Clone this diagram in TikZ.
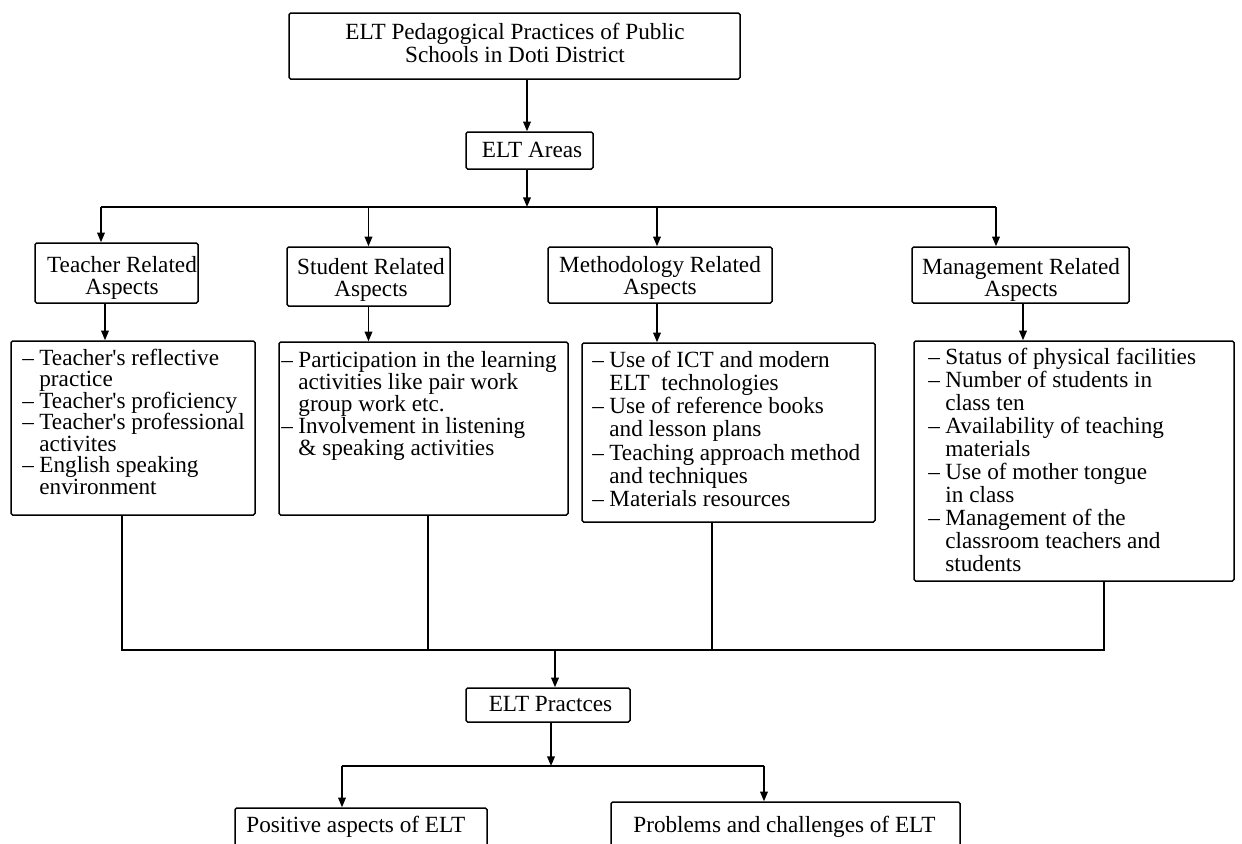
\documentclass[tikz,border=0pt]{standalone}
\usepackage{fontspec}
\setmainfont{Liberation Serif}
\usetikzlibrary{arrows.meta,calc}
\newcommand\itm{\par\hangindent=8.5pt\hangafter=1\noindent\makebox[8.5pt][l]{–}}
\newcommand\apos{\textquotesingle}
\begin{document}
\begin{tikzpicture}[x=0.5pt,y=-0.5pt,
  box/.style={draw, line width=0.75pt, rounded corners=0.8pt, inner sep=0pt},
  ln/.style={line width=0.75pt},
  arr/.style={line width=0.75pt, -{Triangle[length=4.8pt,width=3.8pt]}},
  ttx/.style={inner sep=0pt, anchor=base, font=\fontsize{11.6}{11}\selectfont},
  ltx/.style={inner sep=0pt, anchor=base west, font=\fontsize{11.6}{11.5}\selectfont},
]
\fill[white] (0,0) rectangle (1242,843);
\useasboundingbox (0,0) rectangle (1242,843);
\clip (0,0) rectangle (1242,843);

% ---- boxes ----
\node[box, minimum width=225.5pt, minimum height=33pt] (top) at (514.5,46) {};
\node[box, minimum width=63.5pt, minimum height=18.5pt] (areas) at (529.5,150.5) {};
\node[box, minimum width=81.5pt, minimum height=30pt] (ttl) at (116.5,273) {};
\node[box, minimum width=81.5pt, minimum height=29.5pt] (stl) at (368.5,276.5) {};
\node[box, minimum width=112pt, minimum height=28pt] (mtl) at (660,275) {};
\node[box, minimum width=108.5pt, minimum height=28pt] (gtl) at (1020.5,275) {};
\node[box, minimum width=122pt, minimum height=87pt] (tlist) at (133,428) {};
\node[box, minimum width=144.5pt, minimum height=86.5pt] (slist) at (423.5,428.5) {};
\node[box, minimum width=146.5pt, minimum height=89.5pt] (mlist) at (728.5,432.5) {};
\node[box, minimum width=160pt, minimum height=120pt] (glist) at (1074,461) {};
\node[box, minimum width=82pt, minimum height=17pt] (prac) at (548,705) {};
\node[box, minimum width=126pt, minimum height=31pt] (pos) at (361,839) {};
\node[box, minimum width=174.5pt, minimum height=34pt] (prob) at (785.5,836) {};

% ---- texts ----
\node[ttx, font=\fontsize{11.6}{11.6}\selectfont] (toptx) at (515,39.5)
  {\begin{tabular}[t]{@{}c@{}}ELT Pedagogical Practices of Public\\Schools in Doti District\end{tabular}};
\node[ttx] (areastx) at (532,157) {ELT Areas};
\node[ttx] (ttltx) at (122,272)
  {\begin{tabular}[t]{@{}c@{}}Teacher Related\\Aspects\end{tabular}};
\node[ttx] (stltx) at (371,274)
  {\begin{tabular}[t]{@{}c@{}}Student Related\\Aspects\end{tabular}};
\node[ttx] (mtltx) at (660,272)
  {\begin{tabular}[t]{@{}c@{}}Methodology Related\\Aspects\end{tabular}};
\node[ttx] (gtltx) at (1021,274)
  {\begin{tabular}[t]{@{}c@{}}Management Related\\Aspects\end{tabular}};
\node[ttx] (practx) at (550.5,711) {ELT Practces};
\node[ltx] (postx) at (246,832) {Positive aspects of ELT};
\node[ltx] (probtx) at (633,832) {Problems and challenges of ELT};

\node[ltx] (tlisttx) at (22,365) {\begin{minipage}[t]{240pt}\fontsize{11.6}{10.75}\selectfont
\itm Teacher\apos s reflective\\practice
\itm Teacher\apos s proficiency
\itm Teacher\apos s professional\\activites
\itm English speaking\\environment
\end{minipage}};
\node[ltx] (slisttx) at (281,367) {\begin{minipage}[t]{240pt}\fontsize{11.6}{11.1}\selectfont
\itm Participation in the learning\\activities like pair work\\group work etc.
\itm Involvement in listening\\\& speaking activities
\end{minipage}};
\node[ltx] (mlisttx) at (592,367) {\begin{minipage}[t]{240pt}\fontsize{11.6}{11.65}\selectfont
\itm Use of ICT and modern\\ELT\ \ technologies
\itm Use of reference books\\and lesson plans
\itm Teaching approach method\\and techniques
\itm Materials resources
\end{minipage}};
\node[ltx] (glisttx) at (928,364) {\begin{minipage}[t]{240pt}\fontsize{11.6}{11.55}\selectfont
\itm Status of physical facilities
\itm Number of students in\\class ten
\itm Availability of teaching\\materials
\itm Use of mother tongue\\in class
\itm Management of the\\classroom teachers and\\students
\end{minipage}};

% ---- connector coordinates ----
\coordinate (barL) at (101,207);
\coordinate (barR) at (996,207);
\coordinate (bbL) at (122,650);
\coordinate (bbR) at (1104,650);
\coordinate (lbL) at (342,766);
\coordinate (lbR) at (764,766);
\coordinate (xa) at (527,0);
\coordinate (xt) at (105,0);
\coordinate (xm) at (657,0);
\coordinate (xg) at (1023,0);
\coordinate (xs2) at (428,0);
\coordinate (xm2) at (712,0);
\coordinate (xp) at (555,0);
\coordinate (xq) at (551,0);

% ---- connectors ----
\draw[arr] (top.south -| xa) -- (areas.north -| xa);
\draw[arr] (areas.south -| xa) -- (barL -| xa);
\draw[ln] (barL) -- (barR);
\draw[arr] (barL) -- (ttl.north -| barL);
\draw[arr] (stl.north |- barL) -- (stl.north);
\draw[arr] (barL -| xm) -- (mtl.north -| xm);
\draw[arr] (barR) -- (gtl.north -| barR);
\draw[arr] (ttl.south -| xt) -- (tlist.north -| xt);
\draw[arr] (stl.south) -- (slist.north -| stl.south);
\draw[arr] (mtl.south -| xm) -- (mlist.north -| xm);
\draw[arr] (gtl.south -| xg) -- (glist.north -| xg);
\draw[ln] (tlist.south -| bbL) -- (bbL) -- (bbR) -- (glist.south -| bbR);
\draw[ln] (slist.south -| xs2) -- (bbL -| xs2);
\draw[ln] (mlist.south -| xm2) -- (bbL -| xm2);
\draw[arr] (bbL -| xp) -- (prac.north -| xp);
\draw[arr] (prac.south -| xq) -- (lbL -| xq);
\draw[ln] (lbL) -- (lbR);
\draw[arr] (lbL) -- (pos.north -| lbL);
\draw[arr] (lbR) -- (prob.north -| lbR);
\end{tikzpicture}
\end{document}
